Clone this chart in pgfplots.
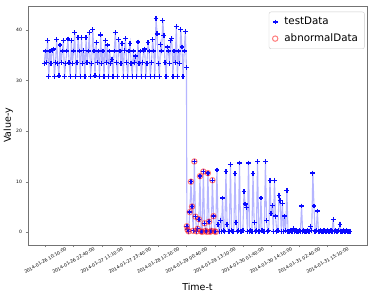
\documentclass[border=0pt]{standalone}
\usepackage{fontspec}
\setmainfont{DejaVu Sans}
\usepackage{pgfplots}
\usepackage{pgfplotstable}
\pgfplotsset{compat=1.18}
\definecolor{mblue}{RGB}{10,10,255}
\definecolor{mred}{RGB}{255,40,40}

\pgfplotstableread{
x y
-0.5 33.4
0.0 35.8
0.5 33.5
1.0 37.9
1.5 30.8
2.0 35.8
2.5 33.4
3.0 35.9
3.5 36.2
4.0 30.8
4.5 33.5
5.0 38.1
5.5 33.4
6.0 30.9
6.5 37.0
7.0 33.5
7.5 35.8
8.0 37.9
8.5 30.8
9.0 33.4
9.5 35.8
10.0 38.2
10.5 33.5
11.0 30.8
11.5 37.9
12.0 33.4
12.5 35.8
13.0 39.4
13.5 30.8
14.0 33.5
14.5 38.5
15.0 35.8
15.5 30.8
16.0 38.5
16.5 33.4
17.0 35.9
17.5 30.8
18.0 38.5
18.5 33.5
19.0 35.8
19.5 39.4
20.0 30.8
20.5 33.4
21.0 40.0
21.5 35.8
22.0 30.9
22.5 37.5
23.0 33.5
23.5 35.8
24.0 30.8
24.5 39.0
25.0 33.4
25.5 35.8
26.0 30.8
26.5 37.9
27.0 33.5
27.5 37.0
28.0 30.8
28.5 35.8
29.0 33.4
29.5 34.2
30.0 30.8
30.5 35.8
31.0 39.4
31.5 33.5
32.0 30.8
32.5 38.1
33.0 35.8
33.5 33.4
34.0 37.3
34.5 30.8
35.0 35.9
35.5 38.3
36.0 33.5
36.5 30.8
37.0 35.8
37.5 37.3
38.0 33.4
38.5 30.8
39.0 35.8
39.5 33.5
40.0 34.8
40.5 30.8
41.0 37.6
41.5 33.4
42.0 35.8
42.5 30.8
43.0 33.5
43.5 35.8
44.0 36.2
44.5 30.8
45.0 33.4
45.5 37.5
46.0 35.8
46.5 30.8
47.0 33.5
47.5 38.1
48.0 35.8
48.5 30.8
49.0 42.3
49.5 39.2
50.0 33.4
50.5 30.8
51.0 37.1
51.5 35.8
52.0 41.9
52.5 38.9
53.0 33.5
53.5 30.8
54.0 36.6
54.5 35.8
55.0 33.4
55.5 37.9
56.0 38.3
56.5 30.8
57.0 35.8
57.5 33.5
58.0 40.7
58.5 30.8
59.0 35.8
59.5 33.4
60.0 40.1
60.5 36.6
61.0 30.8
61.5 35.8
62.0 39.6
62.5 32.6
62.7 1.2
63.0 0.5
63.5 0.2
64.0 4.0
64.5 10.0
65.0 5.1
65.5 0.3
66.0 14.0
66.5 3.1
67.0 0.2
67.5 0.7
68.0 2.6
68.5 11.1
69.0 0.2
69.5 0.1
70.0 12.0
70.5 1.8
71.0 0.3
71.5 0.1
72.0 11.7
72.5 2.1
73.0 0.1
73.5 0.3
74.0 10.3
74.5 3.2
75.0 0.2
75.5 0.1
76.0 12.3
76.5 1.6
77.0 0.2
77.5 2.3
78.0 0.1
78.5 6.8
79.0 0.3
79.5 0.1
80.0 12.0
80.5 1.6
81.0 0.2
81.5 0.1
82.0 13.4
82.5 0.3
83.0 0.1
83.5 0.2
84.0 11.6
84.5 2.0
85.0 0.1
85.5 0.3
86.0 13.7
86.5 0.2
87.0 0.1
87.5 0.3
88.0 8.0
88.5 5.6
89.0 4.9
89.5 0.2
90.0 13.7
90.5 0.1
91.0 0.3
91.5 0.2
92.0 11.6
92.5 2.0
93.0 0.1
93.5 0.3
94.0 14.0
94.5 0.2
95.0 0.1
95.5 6.8
96.0 0.3
96.5 0.1
97.0 0.2
97.5 14.0
98.0 2.3
98.5 0.1
99.0 0.3
99.5 10.3
100.0 3.7
100.5 5.3
101.0 0.2
101.5 10.3
102.0 3.2
102.5 0.1
103.0 0.3
103.5 7.3
104.0 6.3
104.5 0.2
105.0 5.7
105.5 0.1
106.0 3.2
106.5 0.3
107.0 8.3
107.5 0.1
108.0 0.2
108.5 0.3
109.0 0.1
109.5 0.2
110.0 0.7
110.5 0.1
111.0 0.3
111.5 0.2
112.0 0.1
112.5 0.3
113.0 0.2
113.5 5.2
114.0 0.1
114.5 0.3
115.0 0.2
115.5 0.1
116.0 0.3
116.5 0.2
117.0 0.1
117.5 1.2
118.0 0.3
118.5 11.7
119.0 5.2
119.5 0.1
120.0 0.3
120.5 4.2
121.0 0.2
121.5 0.1
122.0 0.3
122.5 0.2
123.0 0.1
123.5 0.3
124.0 0.2
124.5 0.1
125.0 0.3
125.5 0.2
126.0 0.1
126.5 0.3
127.0 0.2
127.5 2.6
128.0 0.1
128.5 0.3
129.0 0.2
129.5 0.1
130.0 0.3
130.5 1.6
131.0 0.2
131.5 0.1
132.0 0.3
132.5 0.2
133.0 0.1
133.5 0.3
134.0 0.2
134.5 0.1
135.0 0.2
}\testdata

\pgfplotstableread{
x y
62.7 1.2
63.0 0.5
63.5 0.2
64.0 4.0
64.5 10.0
65.0 5.1
65.5 0.3
66.0 14.0
66.5 3.1
67.0 0.2
67.5 0.7
68.0 2.6
68.5 11.1
69.0 0.2
69.5 0.1
70.0 12.0
70.5 1.8
71.0 0.3
71.5 0.1
72.0 11.7
72.5 2.1
73.0 0.1
73.5 0.3
74.0 10.3
74.5 3.2
75.0 0.2
75.5 0.1
}\abnormaldata

\begin{document}
\begin{tikzpicture}
\begin{axis}[
  scale only axis, width=339pt, height=239pt,
  xmin=-7.7, xmax=142.5, ymin=-2.5, ymax=44.7,
  axis line style={black!55, line width=0.6pt},
  tick pos=left, tick align=outside,
  major tick length=2pt,
  xtick={0,12.5,25,37.5,50,62.5,75,87.5,100,112.5,125},
  xticklabels={2014-01-26 10:10:00,2014-01-26 22:40:00,2014-01-27 11:10:00,2014-01-27 23:40:00,2014-01-28 12:10:00,2014-01-29 00:40:00,2014-01-29 13:10:00,2014-01-30 01:40:00,2014-01-30 14:10:00,2014-01-31 02:40:00,2014-01-31 15:10:00},
  ytick={0,10,20,30,40},
  /pgf/number format/assume math mode=true,
  tick label style={font=\fontsize{4.5}{5}\selectfont},
  xticklabel style={yshift=-13.5pt, rotate=30, anchor=center},
  yticklabel style={xshift=-0.5pt},
  xlabel={Time-t}, ylabel={Value-y},
  label style={font=\fontsize{9.5}{11}\selectfont},
  xlabel style={at={(axis description cs:0.5,-0.176)}, anchor=center},
  ylabel style={at={(axis description cs:-0.058,0.5)}, anchor=center},
  legend style={at={(axis description cs:0.993,0.976)}, anchor=north east,
    draw=black!20, rounded corners=2pt, font=\fontsize{10.3}{11}\selectfont,
    inner xsep=3.5pt, inner ysep=2.5pt, nodes={inner sep=3pt}, row sep=1.5pt,
    /tikz/every odd column/.append style={column sep=3.5pt}},
  legend cell align=left,
]
\addplot[mblue, opacity=0.3, line width=1.1pt, forget plot] table[x=x,y=y]{\testdata};
\addplot[color=mblue, only marks, mark=+, mark size=2.4pt, line width=1.3pt] table[x=x,y=y]{\testdata};
\addlegendentry{testData}
\addplot[color=mred, only marks, mark=o, mark size=2.7pt, line width=1pt, mark options={color=mred, draw opacity=0.6}] table[x=x,y=y]{\abnormaldata};
\addlegendentry{abnormalData}
\end{axis}
\pgfresetboundingbox
\path[use as bounding box] ([shift={(-28pt,-54pt)}]current axis.south west) rectangle ([shift={(7pt,6pt)}]current axis.north east);
\end{tikzpicture}
\end{document}
